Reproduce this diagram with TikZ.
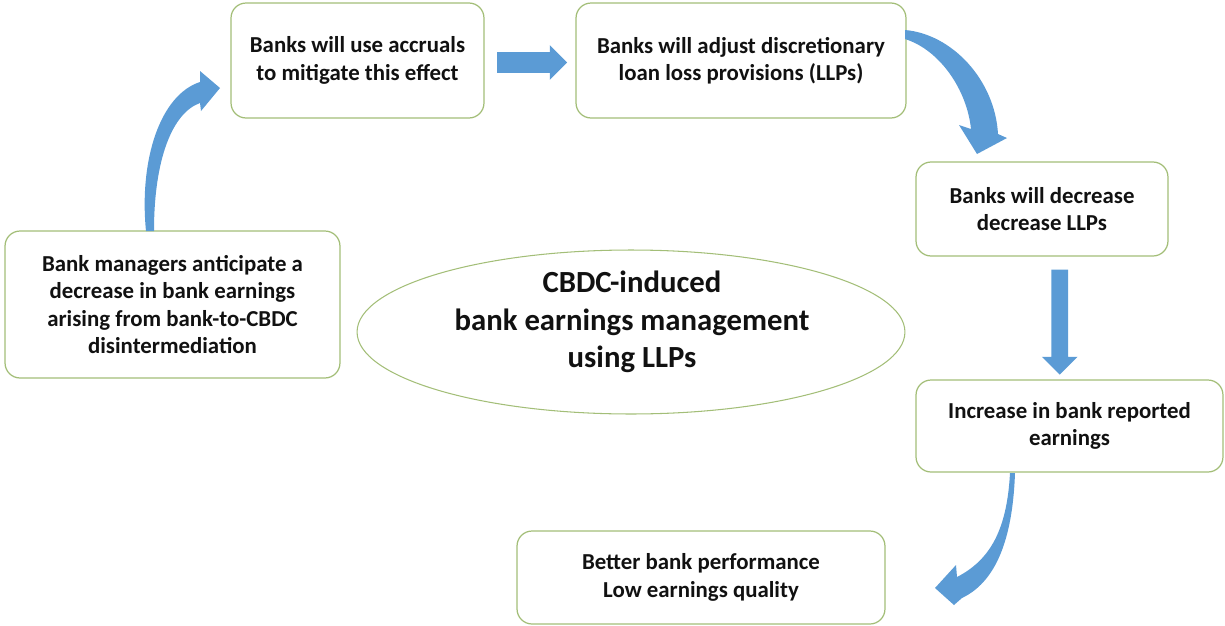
\documentclass[tikz,border=0pt]{standalone}
\usepackage{fontspec}
\setmainfont{Carlito}
\usetikzlibrary{positioning, calc, shapes.geometric, shapes.arrows}
\definecolor{leaf}{HTML}{A3BE78}
\definecolor{flow}{HTML}{5B9BD5}
\definecolor{ink}{HTML}{111111}

\begin{document}
\begin{tikzpicture}[
  x=0.02cm, y=-0.02cm,
  stepbox/.style={draw=leaf, fill=white, line width=0.7pt, rounded corners=0.3cm,
                  align=center, text=ink, inner sep=0pt,
                  font=\bfseries\fontsize{13}{15.5}\selectfont},
  core/.style={ellipse, draw=leaf, line width=0.6pt, inner sep=0pt,
               minimum width=10.96cm, minimum height=3.28cm},
  title/.style={align=center, text=ink, font=\bfseries\fontsize{17.5}{21.5}\selectfont},
  bar/.style={single arrow, fill=flow, draw=none, inner sep=#1,
              single arrow head indent=0pt},
]
\useasboundingbox (0,0) rectangle (1225,626);

% ─── the six steps ──────────────────────────────────────────────────────────
\node[stepbox, minimum width=6.7cm, minimum height=2.94cm] (anticipate) at (172.5,304.5)
      {Bank managers anticipate a\\ decrease in bank earnings\\
       arising from bank-to-CBDC\\ disintermediation};
\node[stepbox, minimum width=5.06cm, minimum height=2.3cm] (accruals) at (357.5,60.5)
      {Banks will use accruals\\ to mitigate this effect};
\node[stepbox, minimum width=6.6cm, minimum height=2.3cm] (adjust) at (741,60.5)
      {Banks will adjust discretionary\\ loan loss provisions (LLPs)};
\node[stepbox, minimum width=5.04cm, minimum height=1.88cm] (decrease) at (1042,209)
      {Banks will decrease\\ decrease LLPs};
\node[stepbox, minimum width=6.14cm, minimum height=1.84cm] (earnings) at (1069.5,426)
      {Increase in bank reported\\ earnings};
\node[stepbox, minimum width=7.36cm, minimum height=1.86cm] (outcome) at (701,577.5)
      {Better bank performance\\ Low earnings quality};

% ─── centre ellipse ─────────────────────────────────────────────────────────
\node[core] (hub) at (631,332) {};
\node[title] (hubtext) at ($(hub.center)+(1,-10)$)
      {CBDC-induced\\ bank earnings management\\ using LLPs};

% ─── straight block arrows ──────────────────────────────────────────────────
\node[bar=0.2cm, single arrow head extend=0.14cm, minimum height=1.4cm]
      (toadjust) at ($(accruals.east)!0.5!(adjust.west)+(-3,2)$) {};
\node[bar=0.16cm, single arrow head extend=0.19cm, minimum height=2.1cm,
      shape border rotate=270]
      (toearn) at ($(decrease.south)!0.5!(earnings.north)+(4,0)$) {};

% ─── curved block arrows (drawn as shapes) ──────────────────────────────────
% up out of the first box, bending right into the accruals box
\fill[flow] (146,231) .. controls (139,160) and (160,95) .. (200,82)
      -- (200,71) -- (220,88) -- (201,111) -- (200,103)
      .. controls (172,113) and (154,160) .. (154,231) -- cycle;
% off the LLP box, swinging down onto the decrease box
\fill[flow] (905,30) .. controls (952,34) and (995,80) .. (998,134)
      -- (1007,138) -- (977,154) -- (959,125) -- (971,129)
      .. controls (967,90) and (940,50) .. (905,39) -- cycle;
% under the earnings box, curling left towards the outcome
\fill[flow] (1015,473) .. controls (1013,530) and (1000,580) .. (962,598)
      -- (954,605) -- (935,588) -- (956,565) -- (957,577)
      .. controls (990,560) and (1007,530) .. (1010,473) -- cycle;

\end{tikzpicture}
\end{document}
